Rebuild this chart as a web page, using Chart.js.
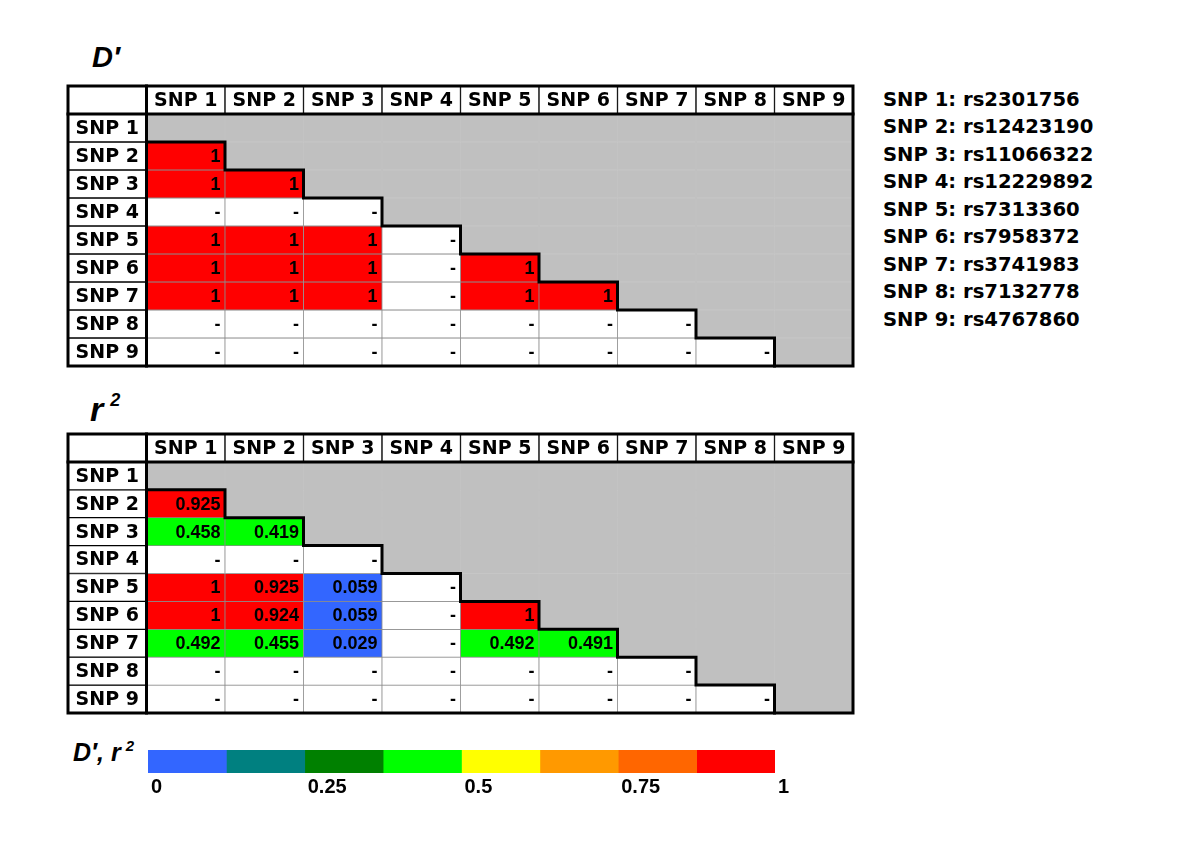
<!DOCTYPE html>
<html>
<head>
<meta charset="utf-8">
<script src="https://cdn.jsdelivr.net/npm/chart.js@4.4.1/dist/chart.umd.min.js"></script>
<style>
  html, body { margin:0; padding:0; background:#fff; }
  #wrap { position:relative; width:1200px; height:849px; overflow:hidden; background:#fff; }
  canvas { position:absolute; }
  .ttl { position:absolute; font-family:"Liberation Sans", Arial, sans-serif; font-weight:bold; font-style:italic; color:#000; white-space:nowrap; }
  .sup { position:relative; }
  #legend { position:absolute; left:883px; top:86px; font-family:"DejaVu Sans", sans-serif; font-weight:bold; font-size:19.6px; line-height:27.45px; color:#000; white-space:nowrap; }
</style>
</head>
<body>
<div id="wrap">
  <div class="ttl" style="left:92px; top:43px; font-size:29px; line-height:29px;">D′</div>
  <div class="ttl" style="left:90px; top:392px; font-size:34px; line-height:34px;">r<span class="sup" style="font-size:18px; top:-15px; margin-left:7px;">2</span></div>
  <div class="ttl" style="left:73px; top:740px; font-size:25px; line-height:25px;">D′, r<span class="sup" style="font-size:15px; top:-10px; margin-left:5px;">2</span></div>
  <div id="legend"></div>
  <canvas id="tblD" width="797" height="292" style="left:62px; top:80px; width:797px; height:292px;"></canvas>
  <canvas id="tblR" width="797" height="291" style="left:62px; top:428px; width:797px; height:291px;"></canvas>
  <canvas id="cbar" width="680" height="60" style="left:140px; top:744px; width:680px; height:60px;"></canvas>
</div>
<script>
// ---------------- data ----------------
const snpLabels = ['SNP 1','SNP 2','SNP 3','SNP 4','SNP 5','SNP 6','SNP 7','SNP 8','SNP 9'];
const rsIds = ['rs2301756','rs12423190','rs11066322','rs12229892','rs7313360','rs7958372','rs3741983','rs7132778','rs4767860'];
// lower-triangle values: row i holds pairs (SNP i+1, SNP j+1) for j < i; null = "-"
const dPrime = [
  [],
  [1],
  [1, 1],
  [null, null, null],
  [1, 1, 1, null],
  [1, 1, 1, null, 1],
  [1, 1, 1, null, 1, 1],
  [null, null, null, null, null, null, null],
  [null, null, null, null, null, null, null, null]
];
const rSquared = [
  [],
  [0.925],
  [0.458, 0.419],
  [null, null, null],
  [1, 0.925, 0.059, null],
  [1, 0.924, 0.059, null, 1],
  [0.492, 0.455, 0.029, null, 0.492, 0.491],
  [null, null, null, null, null, null, null],
  [null, null, null, null, null, null, null, null]
];
const colorbarColors = ['#3366ff','#008080','#008000','#00ff00','#ffff00','#ff9900','#ff6600','#ff0000'];
const colorbarTicks = [0, 0.25, 0.5, 0.75, 1];

// ---------------- legend text ----------------
document.getElementById('legend').innerHTML =
  snpLabels.map((s, i) => '<div>' + s + ': ' + rsIds[i] + '</div>').join('');

// ---------------- helpers ----------------
const GREY = '#c0c0c0';
const GRID = '#8c8c8c';
const HEAD_FONT = 'bold 19px "DejaVu Sans", sans-serif';
const VAL_FONT = 'bold 18px "Liberation Sans", Arial, sans-serif';

function colorFor(v) {
  if (v === null || v === undefined) return '#ffffff';
  let b = Math.floor(v * colorbarColors.length);
  if (b >= colorbarColors.length) b = colorbarColors.length - 1;
  if (b < 0) b = 0;
  return colorbarColors[b];
}

const cellTextPlugin = {
  id: 'cellText',
  afterDatasetsDraw(chart) {
    const ctx = chart.ctx;
    chart.data.datasets.forEach((ds, di) => {
      if (!ds.cellText) return;
      const meta = chart.getDatasetMeta(di);
      meta.data.forEach((bar, i) => {
        const t = ds.cellText[i];
        if (!t) return;
        const p = bar.getProps(['x', 'y', 'base', 'width'], true);
        const cy = (p.y + p.base) / 2;
        ctx.save();
        ctx.font = ds.cellFont[i];
        ctx.fillStyle = '#000';
        ctx.textBaseline = 'middle';
        if (ds.cellAlign[i] === 'right') {
          ctx.textAlign = 'right';
          ctx.fillText(t, p.x + p.width / 2 - 4.5, cy + 1);
        } else {
          ctx.textAlign = 'center';
          ctx.fillText(t, p.x, cy + 1);
        }
        ctx.restore();
      });
    });
  }
};

function buildTable(canvasId, matrix) {
  const n = snpLabels.length;
  const cols = [''].concat(snpLabels);
  const datasets = [];
  for (let r = 0; r <= n; r++) {
    const data = [], bg = [], bc = [], bw = [], txt = [], fnt = [], aln = [];
    for (let c = 0; c <= n; c++) {
      data.push([r, r + 1]);
      if (r === 0 || c === 0) {
        bg.push('#ffffff'); bc.push('#000000'); bw.push(1);
        txt.push(r === 0 ? (c === 0 ? '' : snpLabels[c - 1]) : snpLabels[r - 1]);
        fnt.push(HEAD_FONT); aln.push('center');
      } else if (c >= r) {
        bg.push(GREY); bc.push(GREY); bw.push(0.5);
        txt.push(''); fnt.push(VAL_FONT); aln.push('right');
      } else {
        const v = matrix[r - 1][c - 1];
        bg.push(colorFor(v)); bc.push(GRID); bw.push(0.75);
        txt.push(v === null ? '-' : String(v)); fnt.push(VAL_FONT); aln.push('right');
      }
    }
    datasets.push({
      type: 'bar', data, backgroundColor: bg, borderColor: bc, borderWidth: bw,
      borderSkipped: false, grouped: false, barPercentage: 1, categoryPercentage: 1,
      xAxisID: 'x', yAxisID: 'y', cellText: txt, cellFont: fnt, cellAlign: aln
    });
  }
  const lineDs = (pts) => ({
    type: 'line', data: pts, xAxisID: 'xl', yAxisID: 'y', borderColor: '#000', borderWidth: 3,
    pointRadius: 0, clip: false, order: -1, tension: 0, borderJoinStyle: 'miter', borderCapStyle: 'square', fill: false
  });
  // outer frame
  datasets.push(lineDs([{x:0,y:0},{x:n+1,y:0},{x:n+1,y:n+1},{x:0,y:n+1},{x:0,y:0}]));
  // header separator and label-column separator
  datasets.push(lineDs([{x:0,y:1},{x:n+1,y:1}]));
  datasets.push(lineDs([{x:1,y:0},{x:1,y:n+1}]));
  // staircase along the diagonal
  const stair = [{x:1, y:2}];
  for (let k = 2; k <= n; k++) {
    stair.push({x:k, y:k});
    stair.push({x:k, y:k + 1});
  }
  datasets.push(lineDs(stair));

  new Chart(document.getElementById(canvasId), {
    data: { labels: cols, datasets },
    options: {
      responsive: false, animation: false, events: [],
      layout: { padding: 6 },
      plugins: { legend: { display: false }, tooltip: { enabled: false } },
      scales: {
        x: { type: 'category', offset: true, display: false },
        xl: { type: 'linear', min: 0, max: n + 1, display: false },
        y: { type: 'linear', min: 0, max: n + 1, reverse: true, display: false }
      }
    },
    plugins: [cellTextPlugin]
  });
}

buildTable('tblD', dPrime);
buildTable('tblR', rSquared);

// ---------------- colour bar ----------------
const nb = colorbarColors.length;
const cbDatasets = colorbarColors.map((col, i) => ({
  data: [[i / nb, (i + 1) / nb]], backgroundColor: col, borderWidth: 0,
  grouped: false, barPercentage: 1, categoryPercentage: 1
}));
new Chart(document.getElementById('cbar'), {
  type: 'bar',
  data: { labels: [''], datasets: cbDatasets },
  options: {
    indexAxis: 'y', responsive: false, animation: false, events: [],
    layout: { padding: { left: 8, right: 45, top: 6, bottom: 8 } },
    plugins: { legend: { display: false }, tooltip: { enabled: false } },
    scales: {
      x: {
        type: 'linear', min: 0, max: 1,
        afterBuildTicks: s => { s.ticks = colorbarTicks.map(v => ({ value: v })); },
        grid: { display: false, drawTicks: false }, border: { display: false },
        ticks: { align: 'start', labelOffset: 3, padding: 2, color: '#000',
                 callback: v => String(v),
                 font: { family: '"Liberation Sans", Arial, sans-serif', weight: 'bold', size: 20 } }
      },
      y: { type: 'category', display: false, offset: true }
    }
  }
});
</script>
</body>
</html>
